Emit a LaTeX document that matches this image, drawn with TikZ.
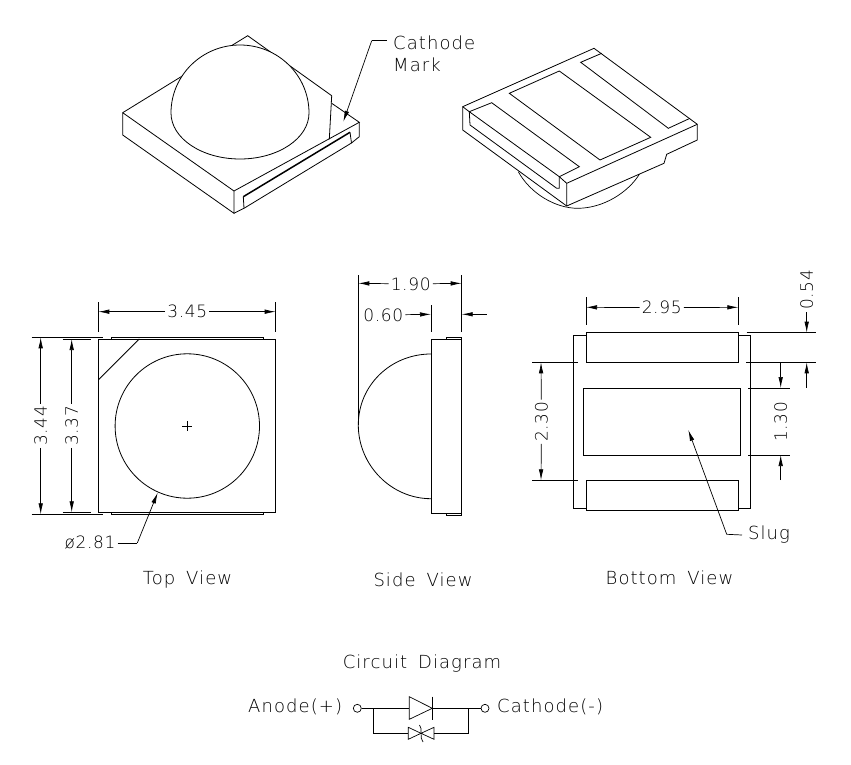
\documentclass[tikz,border=0pt]{standalone}
\usepackage{fontspec}
\setmainfont{DejaVu Sans ExtraLight}[LetterSpace=6,WordSpace=1.6]
\newfontfamily\dimfont{DejaVu Sans ExtraLight}[LetterSpace=4]
\usetikzlibrary{arrows.meta}
\tikzset{
  part/.style={black,line width=0.8pt,line join=miter},
  thin part/.style={black,line width=0.7pt},
  dimline/.style={black,line width=0.7pt},
  arrowed/.style={dimline,-{Latex[length=11pt,width=4.5pt]}},
  dimtext/.style={inner sep=2pt,font=\dimfont\fontsize{17}{17}\selectfont,text=black},
  label/.style={inner sep=0pt,align=left,font=\fontsize{18}{22}\selectfont,text=black},
  term/.style={circle,draw,black,line width=0.7pt,minimum size=8pt,inner sep=0pt}
}
\begin{document}
\begin{tikzpicture}[x=1pt,y=-1pt]
\useasboundingbox (0,0) rectangle (851,765);
% isometric view, dome up
\draw [part] (122.7,112.7) -- (247.7,35.7) -- (331.7,95.7);
\draw [part] (122.7,112.7) -- (234,191) -- (359.3,122.3) -- (331.7,103.3);
\draw [part] (122.7,112.7) -- (122.7,135) -- (234,213.3) -- (234,191);
\draw [part] (359.3,122.3) -- (359.3,136.7) -- (351.5,143);
\draw [part] (234,213.3) -- (244,208.3) -- (351.5,143) -- (350,132.3);
\draw [part] (244,208.3) -- (243.3,196.7);
\draw [black,line width=1.5pt] (243.3,196.7) -- (350,132.3);
\draw [part] (331.7,95.7) -- (329.3,139.3);
\draw [part,fill=white] (171,113) .. controls (171,75.4) and (201.9,45) .. (240,45) .. controls (278.1,45) and (309,75.4) .. (309,113) .. controls (309,138.4) and (278.1,159) .. (240,159) .. controls (201.9,159) and (171,138.4) .. (171,113);
% isometric view, pads up
\draw [thin part] (518.3,171.7) .. controls (530,193) and (555,208.5) .. (578.3,208.3) .. controls (603,208) and (628,193) .. (640,173.3);
\draw [part,fill=white] (462.7,106.7) -- (594,48.3) -- (697.3,124.3) -- (697.3,140) -- (666.7,154.3) -- (664,163.3) -- (566.7,206) -- (462.7,130) -- cycle;
\draw [part] (697.3,124.3) -- (566.7,183.3) -- (566.7,206);
\draw [part] (566.7,183.3) -- (559.3,176.7) -- (469.3,111.7) -- (462.7,106.7);
\draw [part] (469.3,111.7) -- (470,125) -- (556.7,188.3) -- (559.3,188.3) -- (559.3,176.7);
\draw [part] (469.3,111.7) -- (491.7,102.7) -- (579.3,166.7) -- (559.3,176.7);
\draw [part] (601.7,53.3) -- (580.7,62.3) -- (668.3,128.3) -- (690,118.3);
\draw [part] (559.3,71) -- (509.3,93.3) -- (600,160) -- (650.7,137.3) -- cycle;
\node [label,anchor=west] (cathodemark) at (393,54) {Cathode\\Mark};
\coordinate (markbend) at (371.7,40.7);
\draw [dimline] (386.7,40.7) -- (markbend);
\draw [arrowed] (markbend) -- (343.3,121.7);
% top view
\draw [part] (98.3,339) rectangle (275.7,512.3);
\draw [part] (111,339) -- (111,337.3) -- (263.3,337.3) -- (263.3,339);
\draw [part] (111,512.3) -- (111,514.3) -- (263.3,514.3) -- (263.3,512.3);
\draw [part] (139.3,339) -- (98.3,380);
\draw [part] (187.3,426) circle (72.2);
\draw [thin part] (182.3,426) -- (192.3,426) (187.3,421) -- (187.3,431);
\draw [dimline] (98.3,302.3) -- (98.3,331.7) (275.7,302.3) -- (275.7,331.7);
\node [dimtext] (dimtopw) at (187.3,311.7) {3.45};
\draw [arrowed] (dimtopw) -- (98.3,311.7);
\draw [arrowed] (dimtopw) -- (275.7,311.7);
\draw [dimline] (31.7,337.3) -- (103.3,337.3) (31.7,514.3) -- (103.3,514.3);
\draw [dimline] (62.7,339) -- (91,339) (62.7,512.3) -- (91,512.3);
\node [dimtext,rotate=90] (dimtoph) at (40.7,425.7) {3.44};
\draw [arrowed] (dimtoph) -- (40.7,337.3);
\draw [arrowed] (dimtoph) -- (40.7,514.3);
\node [dimtext,rotate=90] (dimtoph2) at (71.7,425.7) {3.37};
\draw [arrowed] (dimtoph2) -- (71.7,339);
\draw [arrowed] (dimtoph2) -- (71.7,512.3);
\node [dimtext] (dimdia) at (90,543) {ø2.81};
\coordinate (diabend) at (137.3,543);
\draw [dimline] (dimdia) -- (diabend);
\draw [arrowed] (diabend) -- (157.7,492.7);
\node [label] (topview) at (187.5,580) {Top View};
% side view
\draw [part] (431,339.3) rectangle (461.7,513.3);
\draw [part] (446,339.3) -- (446,337.3) -- (461.7,337.3) -- (461.7,339.3);
\draw [part] (446,513.3) -- (446,515) -- (461.7,515) -- (461.7,513.3);
\draw [part] (431,354) .. controls (391,354) and (358.3,385) .. (358.3,425) .. controls (358.3,465) and (391,498.7) .. (431,498.7);
\draw [dimline] (358.3,275) -- (358.3,425);
\draw [dimline] (461.7,275) -- (461.7,331.7) (431,305) -- (431,331.7);
\node [dimtext] (dimsidew) at (410.7,284) {1.90};
\draw [arrowed] (dimsidew) -- (358.3,283.3);
\draw [arrowed] (dimsidew) -- (461.7,283.3);
\node [dimtext] (dimsidet) at (383.3,315) {0.60};
\draw [arrowed] (dimsidet) -- (431,314.3);
\coordinate (sidetend) at (486.7,314.3);
\draw [arrowed] (sidetend) -- (461.7,314.3);
\node [label] (sideview) at (423,580) {Side View};
% bottom view
\draw [part] (586,335) -- (573.3,335) -- (573.3,508.3) -- (586,508.3);
\draw [part] (738.3,335) -- (750.7,335) -- (750.7,508.3) -- (738.3,508.3);
\draw [part] (586,332.7) rectangle (738.3,362.3);
\draw [part] (586,480.3) rectangle (738.3,510);
\draw [part] (583.3,388) rectangle (740.7,455);
\draw [dimline] (586,297.3) -- (586,325) (738.3,297.3) -- (738.3,325);
\node [dimtext] (dimbotw) at (661.7,307.7) {2.95};
\draw [arrowed] (dimbotw) -- (586,307.3);
\draw [arrowed] (dimbotw) -- (738.3,307.3);
\draw [dimline] (532.3,362.3) -- (578.3,362.3) (532.3,480.3) -- (578.3,480.3);
\node [dimtext,rotate=90] (dimboth) at (541.5,421.7) {2.30};
\draw [arrowed] (dimboth) -- (541,362.3);
\draw [arrowed] (dimboth) -- (541,480.3);
\draw [dimline] (746.7,332.7) -- (816,332.7) (746,362.3) -- (816,362.3);
\draw [dimline] (748.3,388) -- (790,388) (748.3,455) -- (790,455);
\node [dimtext,rotate=90] (dimpad) at (806.7,290) {0.54};
\draw [arrowed] (dimpad) -- (806.7,332.7);
\coordinate (padend) at (806.7,387.7);
\draw [arrowed] (padend) -- (806.7,362.3);
\node [dimtext,rotate=90] (dimslug) at (780.7,421.7) {1.30};
\coordinate (slugtop) at (780.7,362.3);
\coordinate (slugbot) at (780.7,480);
\draw [arrowed] (slugtop) -- (780.7,388);
\draw [arrowed] (slugbot) -- (780.7,455);
\node [label,anchor=west,outer sep=6pt] (slug) at (742,535) {Slug};
\coordinate (slugbend) at (726.7,534.3);
\draw [dimline] (slug.west) -- (slugbend);
\draw [arrowed] (slugbend) -- (688.3,430);
\node [label] (bottomview) at (669.5,578) {Bottom View};
% circuit
\node [label] (circuit) at (422,664) {Circuit Diagram};
\node [label,anchor=west] (anode) at (248,706.5) {Anode(+)};
\node [label,anchor=west] (cathode) at (497,706.5) {Cathode(-)};
\node [term] (anodept) at (357.3,708.3) {};
\node [term] (cathodept) at (485,708.3) {};
\coordinate (jleft) at (373.3,708.3);
\coordinate (jright) at (468.7,708.3);
\draw [thin part] (anodept) -- (409.3,708.3);
\draw [thin part] (432.3,708.3) -- (cathodept);
\draw [thin part] (409.3,696.7) -- (409.3,719.3) -- (432.3,708.3) -- cycle;
\draw [thin part] (432.3,696.7) -- (432.3,720);
\draw [thin part] (jleft) -- (373.3,733.3) -- (408.3,733.3);
\draw [thin part] (jright) -- (468.7,733.3) -- (434,733.3);
\draw [thin part] (408.3,727.3) -- (408.3,739.3) -- (421,733.3) -- cycle;
\draw [thin part] (434,727.3) -- (434,739.3) -- (421,733.3) -- cycle;
\draw [thin part] (419.5,725) .. controls (423,728) and (419,738) .. (423,742);
\end{tikzpicture}
\end{document}
